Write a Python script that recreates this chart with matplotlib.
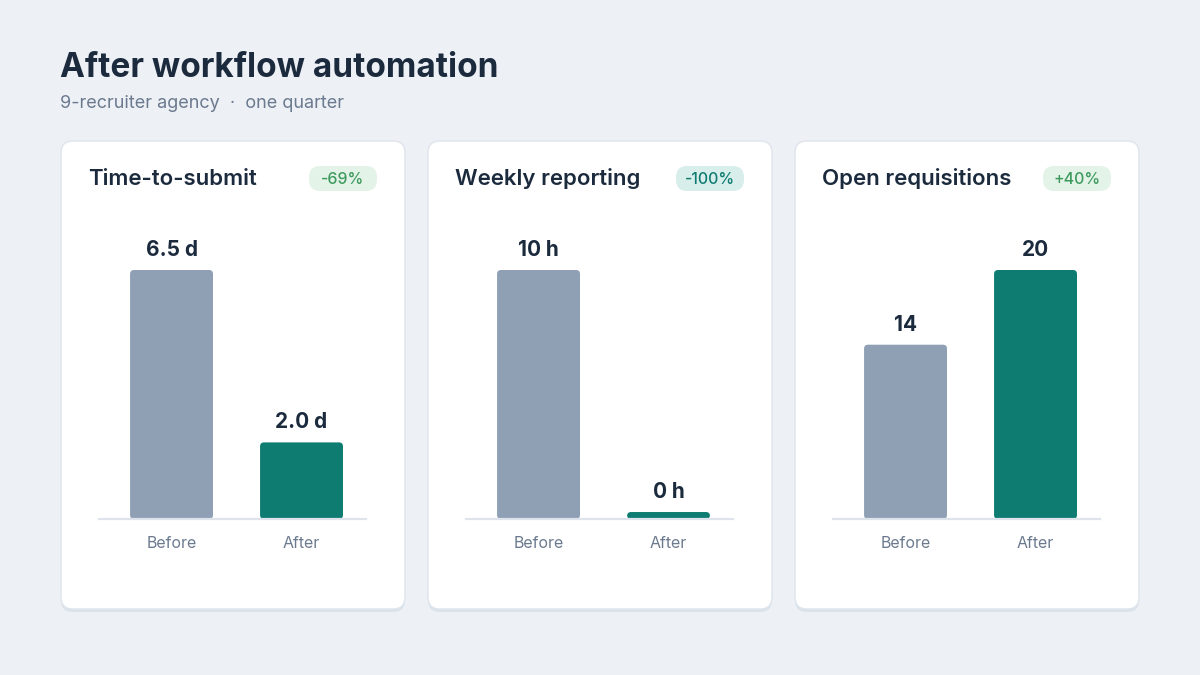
import matplotlib.pyplot as plt
from matplotlib.patches import FancyBboxPatch

plt.rcParams['font.family'] = ['Inter', 'DejaVu Sans']

# data
title = "After workflow automation"
subtitle = "9-recruiter agency  \u00b7  one quarter"
metrics = ["Time-to-submit", "Weekly reporting", "Open requisitions"]
categories = ["Before", "After"]
before = [6.5, 10, 14]
after = [2.0, 0, 20]
before_labels = ["6.5 d", "10 h", "14"]
after_labels = ["2.0 d", "0 h", "20"]
changes = ["-69%", "-100%", "+40%"]
badge_kind = ["green", "teal", "green"]

BG = "#edf0f5"
INK = "#1b2a3d"
MUTED = "#6b7a8f"
C_BEFORE = "#8fa0b5"
C_AFTER = "#0f7c72"
BADGE = {"green": ("#e4f3e8", "#3d9a5d"), "teal": ("#d8eeeb", "#0f7c72")}

W, H = 1200, 675
fig = plt.figure(figsize=(12, 6.75), dpi=100)
fig.patch.set_facecolor(BG)
bg = fig.add_axes([0, 0, 1, 1])
bg.set_xlim(0, W)
bg.set_ylim(H, 0)
bg.axis('off')

bg.text(60, 77, title, fontsize=24, fontweight='bold', color=INK, va='baseline')
bg.text(60, 108, subtitle, fontsize=13, color=MUTED, va='baseline')

card_w, card_h, card_y = 344, 468, 141
base_y, plot_h = 519, 249
xlo, xhi = -0.558, 1.496

for i, name in enumerate(metrics):
    x0 = 61 + i * 367
    bg.add_patch(FancyBboxPatch((x0, card_y + 3), card_w, card_h,
                                boxstyle="round,pad=0,rounding_size=12",
                                fc="#dce2ea", ec='none'))
    bg.add_patch(FancyBboxPatch((x0, card_y), card_w, card_h,
                                boxstyle="round,pad=0,rounding_size=12",
                                fc="white", ec="#dfe5ec", lw=1))
    bg.text(x0 + 27, 185, name, fontsize=16, fontweight='semibold',
            color=INK, va='baseline')
    bfc, btc = BADGE[badge_kind[i]]
    bx1 = x0 + card_w - 28
    bg.add_patch(FancyBboxPatch((bx1 - 68, 166), 68, 25,
                                boxstyle="round,pad=0,rounding_size=11",
                                fc=bfc, ec='none'))
    bg.text(bx1 - 34, 178.5, changes[i], fontsize=11.5, fontweight='medium',
            color=btc, ha='center', va='center_baseline')

    # panel axes
    px = x0 + 38
    ax = fig.add_axes([px / W, (H - base_y) / H, 267 / W, plot_h / H])
    ax.patch.set_alpha(0)
    vals = [before[i], after[i]]
    ymax = max(vals)
    shown = [max(v, ymax * 0.028) for v in vals]
    bars = ax.bar([0, 1], shown, width=0.638, color=[C_BEFORE, C_AFTER])
    ax.set_xlim(xlo, xhi)
    ax.set_ylim(0, ymax)
    xu = (xhi - xlo) / 267
    yu = ymax / plot_h
    for b in bars:
        bx, by = b.get_x(), b.get_y()
        bw, bh = b.get_width(), b.get_height()
        fc = b.get_facecolor()
        b.remove()
        ax.add_patch(FancyBboxPatch((bx, by), bw, bh,
                                    boxstyle="round,pad=0,rounding_size=%f" % (4 * xu),
                                    mutation_aspect=yu / xu, fc=fc, ec='none',
                                    clip_on=False, zorder=2))
    for j, lab in enumerate([before_labels[i], after_labels[i]]):
        ax.annotate(lab, (j, shown[j]), xytext=(0, 14), textcoords='offset pixels',
                    ha='center', va='baseline', fontsize=15, fontweight='bold',
                    color=INK, annotation_clip=False)
        ax.annotate(categories[j], (j, 0), xytext=(0, -29), textcoords='offset pixels',
                    ha='center', va='baseline', fontsize=11.5, color=MUTED,
                    annotation_clip=False)
    for s in ['top', 'left', 'right']:
        ax.spines[s].set_visible(False)
    ax.spines['bottom'].set_color("#dfe4ec")
    ax.spines['bottom'].set_linewidth(1.6)
    ax.spines['bottom'].set_zorder(3)
    ax.set_xticks([])
    ax.set_yticks([])

fig.savefig("out.png", dpi=100, facecolor=BG)
